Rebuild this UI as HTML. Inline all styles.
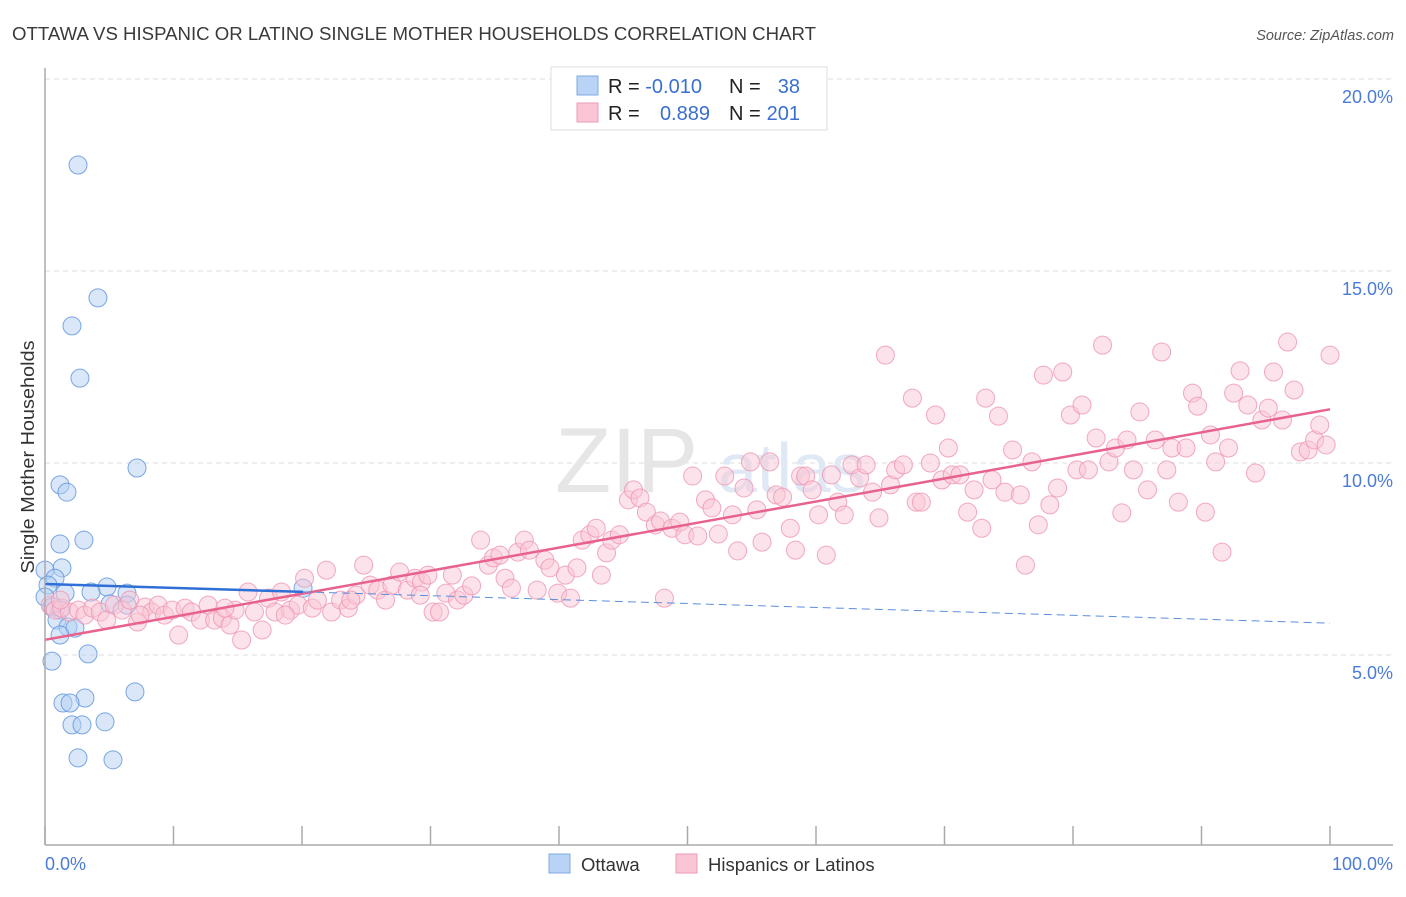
<!DOCTYPE html>
<html><head><meta charset="utf-8">
<style>
body{margin:0;background:#fff;font-family:"Liberation Sans",sans-serif;}
svg text{font-family:"Liberation Sans",sans-serif;}
</style></head>
<body>
<svg id="chart" width="1406" height="892" xmlns="http://www.w3.org/2000/svg">
<text x="12" y="40" font-size="18" fill="#3a3a3a" textLength="804" lengthAdjust="spacingAndGlyphs">OTTAWA VS HISPANIC OR LATINO SINGLE MOTHER HOUSEHOLDS CORRELATION CHART</text>
<text x="1394" y="40" font-size="14.5" fill="#555" text-anchor="end" font-style="italic">Source: ZipAtlas.com</text>
<text transform="translate(34,457) rotate(-90)" font-size="18" fill="#333" text-anchor="middle" textLength="233" lengthAdjust="spacingAndGlyphs">Single Mother Households</text>
<g id="grid"></g>
<g><text x="555" y="492" font-size="92" fill="#e6e6e6" font-family="Liberation Serif">ZIP</text><text x="718" y="492" font-size="70" fill="#dfe8f5">atlas</text></g>
<g id="blue-pts"></g>
<g id="pink-pts"></g>
<g id="lines"></g>
<g id="axes"></g>
<g>
<rect x="551" y="67" width="276" height="63" fill="#fff" stroke="#ddd"/>
<rect x="577" y="76" width="21" height="19" fill="#b8d3f5" stroke="#7ea9e0"/>
<rect x="577" y="103" width="21" height="19" fill="#fac6d5" stroke="#ee9ab4"/>
<text x="608" y="93" font-size="20" fill="#222">R = <tspan fill="#3a6fd0">-0.010</tspan></text>
<text x="729" y="93" font-size="20" fill="#222">N = </text><text x="800" y="93" font-size="20" fill="#3a6fd0" text-anchor="end">38</text>
<text x="608" y="120" font-size="20" fill="#222">R = </text><text x="710" y="120" font-size="20" fill="#3a6fd0" text-anchor="end">0.889</text>
<text x="729" y="120" font-size="20" fill="#222">N = </text><text x="800" y="120" font-size="20" fill="#3a6fd0" text-anchor="end">201</text>
</g>
<g>
<rect x="549" y="854" width="21" height="19" fill="#b8d3f5" stroke="#7ea9e0"/>
<text x="581" y="871" font-size="18.5" fill="#333">Ottawa</text>
<rect x="676" y="854" width="21" height="19" fill="#fac6d5" stroke="#ee9ab4"/>
<text x="708" y="871" font-size="18.5" fill="#333">Hispanics or Latinos</text>
</g>
</svg>
<script>
const blueX=[2.57,4.12,2.1,2.72,7.16,1.17,1.71,1.17,3.03,1.32,0,0.78,0.23,0,6.38,1.56,4.82,3.58,20.08,0.54,1.17,5.06,6.38,0.93,1.79,2.33,1.17,3.35,0.54,7.0,3.11,1.4,1.95,2.1,2.88,4.67,2.57,5.29];
const blueY=[17.76,14.3,13.57,12.21,9.87,9.43,9.24,7.89,7.99,7.27,7.21,7.0,6.82,6.51,6.61,6.61,6.77,6.64,6.74,6.25,6.17,6.33,6.3,5.91,5.73,5.7,5.52,5.03,4.84,4.04,3.88,3.75,3.75,3.18,3.18,3.26,2.32,2.27];
const pinkX=[0.4,0.8,1.3,1.9,2.6,3.1,3.7,4.3,4.8,5.4,6.0,6.6,7.2,7.8,8.3,8.8,9.3,9.9,10.4,10.9,11.4,12.1,12.7,13.2,13.8,14.4,14.8,15.3,15.8,16.3,16.9,17.4,17.9,18.4,19.1,19.7,20.2,20.8,21.2,21.9,22.3,23.0,23.6,24.2,24.8,25.3,25.9,26.5,27.0,27.6,28.2,28.8,29.3,29.8,30.2,30.7,31.2,31.7,32.1,32.6,33.2,33.9,34.5,34.9,35.4,35.8,36.3,36.8,37.3,37.7,38.3,38.9,39.3,39.9,40.5,40.9,41.4,41.8,42.4,42.9,43.3,43.7,44.1,44.7,45.4,45.8,46.3,46.8,47.5,47.9,48.2,48.8,49.4,49.8,50.4,50.8,51.4,51.9,52.4,52.9,53.5,53.9,54.4,54.9,55.4,55.8,56.4,56.9,57.4,58.0,58.4,58.8,59.2,59.7,60.2,60.8,61.2,61.7,62.2,62.8,63.4,63.9,64.4,64.9,65.4,65.8,66.2,66.8,67.5,67.8,68.2,68.9,69.3,69.8,70.3,70.6,71.2,71.8,72.3,72.9,73.2,73.7,74.2,74.7,75.3,75.9,76.3,76.8,77.3,77.7,78.2,78.8,79.2,79.8,80.3,80.7,81.2,81.8,82.3,82.8,83.3,83.8,84.2,84.7,85.2,85.8,86.4,86.9,87.3,87.7,88.2,88.8,89.3,89.7,90.3,90.7,91.1,91.6,92.1,92.5,93.0,93.6,94.2,94.7,95.2,95.6,96.3,96.7,97.2,97.7,98.3,98.8,99.2,99.7,100,1.2,7.4,14.0,18.7,23.8,29.2];
const pinkY=[6.3,6.17,6.22,6.12,6.17,6.04,6.22,6.12,5.91,6.3,6.17,6.43,5.86,6.25,6.12,6.3,6.04,6.17,5.52,6.22,6.12,5.91,6.3,5.91,5.96,5.78,6.17,5.39,6.64,6.12,5.65,6.48,6.12,6.64,6.17,6.3,7.0,6.22,6.43,7.21,6.12,6.43,6.22,6.56,7.34,6.82,6.69,6.43,6.82,7.16,6.69,7.0,6.9,7.08,6.12,6.12,6.61,7.08,6.43,6.56,6.8,7.99,7.34,7.53,7.6,7.0,6.74,7.68,7.99,7.73,6.69,7.47,7.27,6.61,7.08,6.48,7.27,7.99,8.13,8.3,7.08,7.66,7.99,8.13,9.04,9.3,9.09,8.72,8.39,8.49,6.48,8.3,8.46,8.13,9.66,8.1,9.04,8.83,8.15,9.66,8.65,7.71,9.35,10.03,8.78,7.94,10.03,9.17,9.11,8.3,7.73,9.66,9.66,9.3,8.65,7.6,9.69,8.98,8.65,9.95,9.61,9.95,9.24,8.57,12.81,9.43,9.82,9.95,11.69,8.98,8.98,10.0,11.25,9.56,10.39,9.69,9.69,8.72,9.3,8.3,11.69,9.56,11.22,9.24,10.34,9.17,7.34,10.03,8.39,12.29,8.91,9.35,12.37,11.25,9.82,11.51,9.82,10.65,13.07,10.03,10.39,8.7,10.6,9.82,11.33,9.3,10.6,12.89,9.82,10.39,8.98,10.39,11.82,11.48,8.72,10.73,10.03,7.68,10.39,11.82,12.4,11.51,9.74,11.12,11.43,12.37,11.12,13.15,11.9,10.29,10.34,10.6,10.99,10.47,12.81,6.43,6.04,6.22,6.04,6.43,6.56];
const yTicks=[5,10,15,20];
const yTickLabels=["5.0%","10.0%","15.0%","20.0%"];
const xTicks=[0,10,20,30,40,50,60,70,80,90,100];
const xTickLabels=["0.0%","100.0%"];
const blueTrend=[6.85,-0.0102];

const NS="http://www.w3.org/2000/svg";
const sx=v=>45+v*12.85, sy=v=>847-v*38.4;
function mk(tag,attrs,parent){const e=document.createElementNS(NS,tag);for(const k in attrs)e.setAttribute(k,attrs[k]);parent.appendChild(e);return e;}
const grid=document.getElementById('grid');
yTicks.forEach((t,i)=>{
  const l=mk('line',{x1:45,x2:1393,y1:sy(t),y2:sy(t),stroke:'#ddd','stroke-dasharray':'5,4'},grid);
  
  
  const tx=mk('text',{x:1393,y:sy(t)+24,'font-size':18,fill:'#4a7bd6','text-anchor':'end'},grid);
  tx.textContent=yTickLabels[i];
  
  
});
const axes=document.getElementById('axes');
const ya=mk('line',{x1:45,x2:45,y1:68,y2:845,stroke:'#aaa','stroke-width':1.5},axes);


const xa=mk('line',{x1:45,x2:1393,y1:845,y2:845,stroke:'#aaa','stroke-width':1.5},axes);


xTicks.forEach(t=>{const l=mk('line',{x1:sx(t),x2:sx(t),y1:826,y2:845,stroke:'#aaa','stroke-width':1.5},axes);
  
  });
const xl0=mk('text',{x:45,y:870,'font-size':18,fill:'#4a7bd6'},axes);xl0.textContent=xTickLabels[0];


const xl1=mk('text',{x:1393,y:870,'font-size':18,fill:'#4a7bd6','text-anchor':'end'},axes);xl1.textContent=xTickLabels[1];



function pts(X,Y,g,fill,stroke,name){X.forEach((x,i)=>{const c=mk('circle',{cx:sx(x),cy:sy(Y[i]),r:9,fill:fill,'fill-opacity':0.5,stroke:stroke,'stroke-opacity':0.8,'stroke-width':1},g);
  
  });}
pts(blueX,blueY,document.getElementById('blue-pts'),'#b3cff3','#5b92dc','ottawa-point');
pts(pinkX,pinkY,document.getElementById('pink-pts'),'#f9c6d5','#ee95b2','hispanic-point');

function reg(X,Y){const n=X.length;let mx=0,my=0;X.forEach((x,i)=>{mx+=x;my+=Y[i];});mx/=n;my/=n;let sxy=0,sxx=0;X.forEach((x,i)=>{sxy+=(x-mx)*(Y[i]-my);sxx+=(x-mx)*(x-mx);});const b=sxy/sxx;return [my-b*mx,b];}
const lines=document.getElementById('lines');
const [pa,pb]=reg(pinkX,pinkY);
const pl=mk('line',{x1:sx(0),y1:sy(pa),x2:sx(100),y2:sy(pa+pb*100),stroke:'#e8628e','stroke-width':2.5},lines);


const [ba,bb]=blueTrend;
const bmax=Math.max(...blueX);
const bl=mk('line',{x1:sx(0),y1:sy(ba),x2:sx(bmax),y2:sy(ba+bb*bmax),stroke:'#2f6fd6','stroke-width':2.5},lines);


const bd=mk('line',{x1:sx(bmax),y1:sy(ba+bb*bmax),x2:sx(100),y2:sy(ba+bb*100),stroke:'#5b8fdc','stroke-width':1,'stroke-dasharray':'8,5'},lines);


</script>
</body></html>
